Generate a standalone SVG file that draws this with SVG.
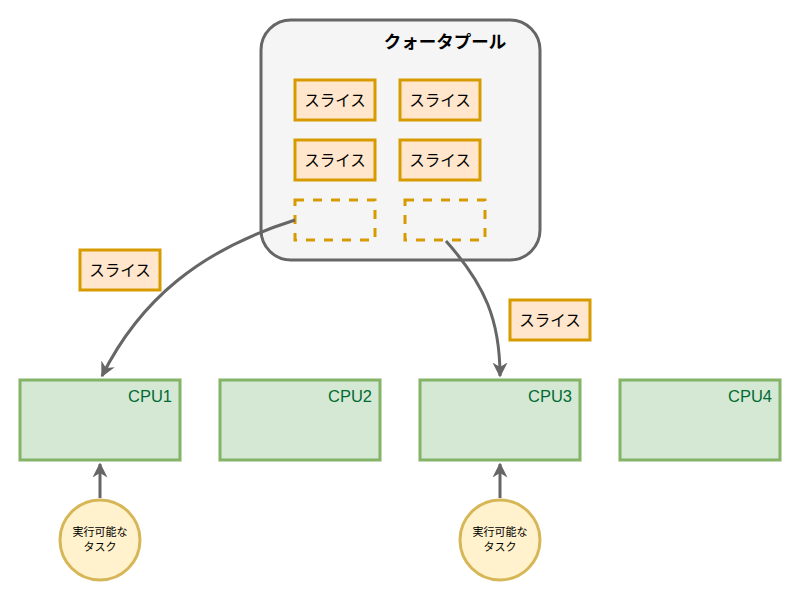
<svg xmlns="http://www.w3.org/2000/svg" width="800" height="600" viewBox="0 0 800 600">
<style>
.slice rect{fill:#ffe6cc;stroke:#d79b00;stroke-width:3}
.slice text,.task text{font-family:"Noto Sans CJK JP","Liberation Sans",sans-serif;fill:#000;text-anchor:middle}
.slice text{font-size:15.5px}
.dash rect{fill:none;stroke:#d79b00;stroke-width:3;stroke-dasharray:9 9}
.cpu rect{fill:#d5e8d4;stroke:#82b366;stroke-width:3}
.cpu text{font-family:"Liberation Sans",Arial,sans-serif;font-size:16.5px;fill:#006b33;text-anchor:end}
.task circle{fill:#fff2cc;stroke:#d6b656;stroke-width:3}
.task text{font-size:11px}
.conn path{fill:none;stroke:#666;stroke-width:3}
</style>
<defs>
<marker id="arr" viewBox="0 0 10 10" refX="9" refY="5" markerWidth="5" markerHeight="5" orient="auto" markerUnits="strokeWidth">
<path d="M0,0 L10,5 L0,10 L3,5 Z" fill="#666"/>
</marker>
</defs>
<g id="pool">
<rect x="261" y="20" width="279" height="240" rx="30" ry="30" fill="#f5f5f5" stroke="#666" stroke-width="3"/>
<text x="445" y="48" font-family="Noto Sans CJK JP,Liberation Sans,sans-serif" font-size="17.5" font-weight="bold" text-anchor="middle">クォータプール</text>
</g>
<g id="slice1" class="slice"><rect x="295" y="80" width="80" height="40"/><text x="335" y="106">スライス</text></g>
<g id="slice2" class="slice"><rect x="400" y="80" width="80" height="40"/><text x="440" y="106">スライス</text></g>
<g id="slice3" class="slice"><rect x="295" y="140" width="80" height="40"/><text x="335" y="166">スライス</text></g>
<g id="slice4" class="slice"><rect x="400" y="140" width="80" height="40"/><text x="440" y="166">スライス</text></g>
<g id="empty1" class="dash"><rect x="295" y="200" width="80" height="40"/></g>
<g id="empty2" class="dash"><rect x="405" y="200" width="80" height="40"/></g>
<g id="slice5" class="slice"><rect x="80" y="250" width="80" height="40"/><text x="120" y="276">スライス</text></g>
<g id="slice6" class="slice"><rect x="510" y="300" width="80" height="40"/><text x="550" y="326">スライス</text></g>
<g id="cpu1" class="cpu"><rect x="20" y="380" width="160" height="80"/><text x="172" y="402">CPU1</text></g>
<g id="cpu2" class="cpu"><rect x="220" y="380" width="160" height="80"/><text x="372" y="402">CPU2</text></g>
<g id="cpu3" class="cpu"><rect x="420" y="380" width="160" height="80"/><text x="572" y="402">CPU3</text></g>
<g id="cpu4" class="cpu"><rect x="620" y="380" width="160" height="80"/><text x="772" y="402">CPU4</text></g>
<g id="task1" class="task"><circle cx="100" cy="540" r="40"/><text x="100" y="536">実行可能な</text><text x="100" y="551">タスク</text></g>
<g id="task2" class="task"><circle cx="500" cy="540" r="40"/><text x="500" y="536">実行可能な</text><text x="500" y="551">タスク</text></g>
<g id="connectors" class="conn">
<path d="M295,220 C200,250 140,300 102,376" marker-end="url(#arr)"/>
<path d="M446,241 C485,285 500,320 500,376" marker-end="url(#arr)"/>
<path d="M100,498 L100,464" marker-end="url(#arr)"/>
<path d="M500,498 L500,464" marker-end="url(#arr)"/>
</g>
</svg>
